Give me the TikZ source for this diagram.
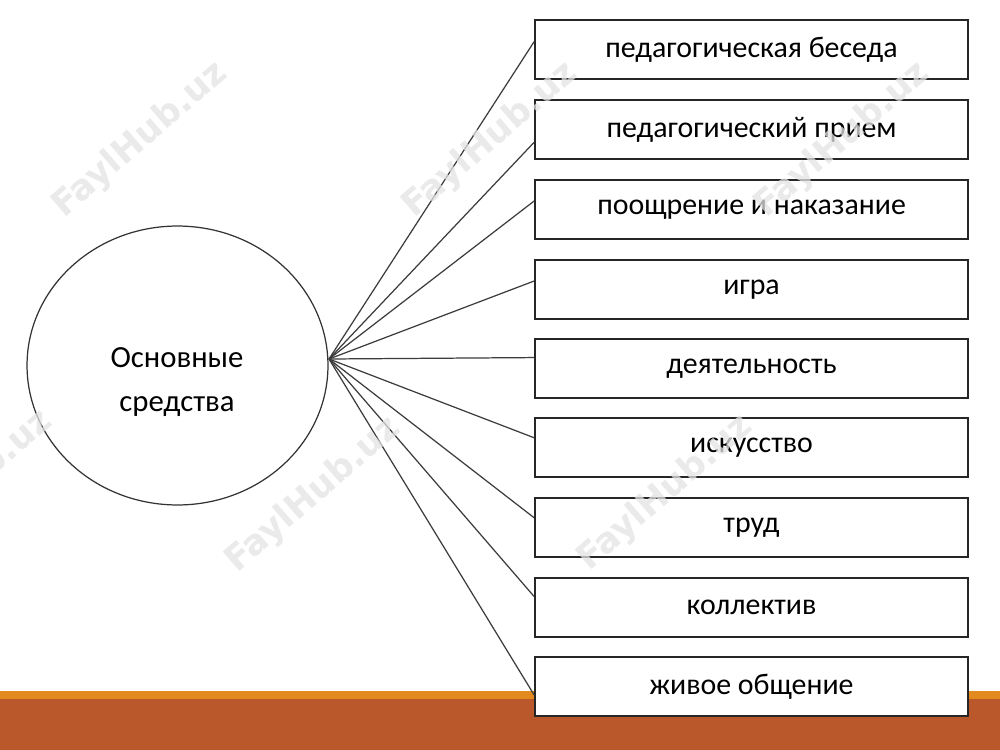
\documentclass[tikz,border=0pt]{standalone}
\usepackage{fontspec}
\setmainfont{Carlito}
\newfontfamily\markfont{DejaVu Sans}
\usetikzlibrary{shapes.geometric, calc}
\definecolor{linegray}{HTML}{3C3C3C}
\definecolor{bandorange}{HTML}{E38A1E}
\definecolor{bandrust}{HTML}{BA582C}
\tikzset{
  box/.style = {draw = black!85, line width = 1pt, fill = white,
    minimum width = 8.66cm, minimum height = 1.18cm,
    font = \fontsize{17}{20}\selectfont},
  spoke/.style = {draw = linegray, line width = 0.7pt},
  wmark/.style = {text = gray!22, text opacity = 0.75, rotate = 41,
    font = \markfont\bfseries\fontsize{20}{20}\selectfont}
}
\begin{document}
\begin{tikzpicture}[x = 0.02cm, y = -0.02cm]
    \useasboundingbox [fill = white] (0, 0) rectangle (1000, 750);
    \fill [bandorange] (0, 691) rectangle (1000, 699);
    \fill [bandrust] (0, 699) rectangle (1000, 750);
    \node [ellipse, draw = black!80, line width = 0.7pt, minimum width = 6.02cm,
      minimum height = 5.58cm] (main) at (177.5, 365.5) {};
    \node [align = center, font = \fontsize{17.5}{25}\selectfont] (maintitle) at (177, 382) {Основные\\средства};
    \coordinate (fan) at (329, 359);
    \node [box] (b1) at (751.5, 49.5) {педагогическая беседа};
    \node [box] (b2) at (751.5, 129.5) {педагогический прием};
    \node [box] (b3) at (751.5, 209.5) {поощрение и наказание};
    \node [box] (b4) at (751.5, 289.5) {игра};
    \node [box] (b5) at (751.5, 368.5) {деятельность};
    \node [box] (b6) at (751.5, 447.5) {искусство};
    \node [box] (b7) at (751.5, 527.5) {труд};
    \node [box] (b8) at (751.5, 607.5) {коллектив};
    \node [box] (b9) at (751.5, 686.5) {живое общение};
    \draw [spoke] (fan) -- ($(b1.north west)!0.37!(b1.south west)$);
    \draw [spoke] (fan) -- ($(b2.north west)!0.71!(b2.south west)$);
    \draw [spoke] (fan) -- ($(b3.north west)!0.36!(b3.south west)$);
    \draw [spoke] (fan) -- ($(b4.north west)!0.36!(b4.south west)$);
    \draw [spoke] (fan) -- ($(b5.north west)!0.32!(b5.south west)$);
    \draw [spoke] (fan) -- ($(b6.north west)!0.34!(b6.south west)$);
    \draw [spoke] (fan) -- ($(b7.north west)!0.34!(b7.south west)$);
    \draw [spoke] (fan) -- ($(b8.north west)!0.32!(b8.south west)$);
    \draw [spoke] (fan) -- ($(b9.north west)!0.64!(b9.south west)$);
    % watermarks
    \node [wmark] (w1) at (140, 140) {FaylHub.uz};
    \node [wmark] (w2) at (490, 140) {FaylHub.uz};
    \node [wmark] (w3) at (842, 140) {FaylHub.uz};
    \node [wmark] (w4) at (-35, 488) {FaylHub.uz};
    \node [wmark] (w5) at (313, 495) {FaylHub.uz};
    \node [wmark] (w6) at (665, 493) {FaylHub.uz};
  \end{tikzpicture}
\end{document}
